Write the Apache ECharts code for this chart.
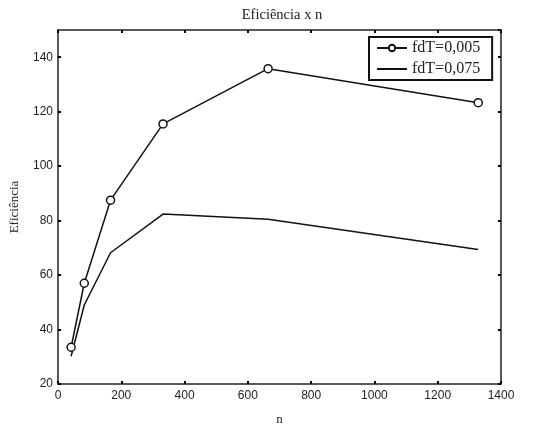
<!DOCTYPE html>
<html><head><meta charset="utf-8">
<script src="https://cdn.jsdelivr.net/npm/echarts@6/dist/echarts.min.js"></script>
<style>html,body{margin:0;padding:0;background:#fff}#c{width:540px;height:431px}</style>
</head><body><div id="c"></div>
<script>
const nValues = [41.5, 83, 166, 332, 664, 1328];
const eff005 = [33.5, 57, 87.5, 115.5, 135.8, 123.3];
const eff075 = [30.2, 49, 68.2, 82.4, 80.5, 69.4];
const seriesNames = ['fdT=0,005', 'fdT=0,075'];
const titleText = 'Eficiência x n';
const xName = 'n';
const yName = 'Eficiência';

const pairs = (xs, ys) => xs.map((x, i) => [x, ys[i]]);
const chart = echarts.init(document.getElementById('c'));
const lineCol = '#111';
const border = {show: true, onZero: false, lineStyle: {color: '#222', width: 1.5}};
const tick = {show: true, inside: true, length: 3, lineStyle: {color: '#000', width: 2}};
const plain = v => String(v);
chart.setOption({
  animation: false,
  backgroundColor: '#fff',
  title: {text: titleText, left: 277, textAlign: 'center', top: 3,
    textStyle: {fontFamily: 'Liberation Serif', fontSize: 14.5, fontWeight: 'normal', color: '#222'}},
  grid: {left: 56, right: 39, top: 30, bottom: 41},
  legend: {
    orient: 'vertical', left: 369, top: 37, itemWidth: 30, itemHeight: 8, itemGap: 5,
    padding: [3, 12, 3, 7], borderColor: '#111', borderWidth: 2, backgroundColor: '#fff',
    textStyle: {fontFamily: 'Liberation Serif', fontSize: 16, color: '#222'},
    data: [{name: seriesNames[0]}, {name: seriesNames[1], itemStyle: {opacity: 0}}]
  },
  xAxis: [{
    type: 'value', min: 0, max: 1400, interval: 200, position: 'bottom',
    name: xName, nameLocation: 'middle', nameGap: 29,
    nameTextStyle: {fontFamily: 'Liberation Serif', fontSize: 13, color: '#222'},
    axisLine: border, axisTick: tick, splitLine: {show: false},
    axisLabel: {fontFamily: 'Liberation Sans', fontSize: 12, color: '#222', margin: 6, formatter: plain}
  }, {
    type: 'value', min: 0, max: 1400, interval: 200, position: 'top',
    axisLine: border, axisTick: tick, splitLine: {show: false}, axisLabel: {show: false}
  }],
  yAxis: [{
    type: 'value', min: 20, max: 150, interval: 20, position: 'left',
    name: yName, nameLocation: 'middle', nameGap: 37,
    nameTextStyle: {fontFamily: 'Liberation Serif', fontSize: 13, color: '#222'},
    axisLine: border, axisTick: tick, splitLine: {show: false},
    axisLabel: {fontFamily: 'Liberation Sans', fontSize: 12, color: '#222', margin: 5, showMaxLabel: false, formatter: plain}
  }, {
    type: 'value', min: 20, max: 150, interval: 20, position: 'right',
    axisLine: border, axisTick: tick, splitLine: {show: false}, axisLabel: {show: false}
  }],
  series: [{
    name: seriesNames[0], type: 'line', data: pairs(nValues, eff005),
    symbol: 'circle', symbolSize: 8,
    itemStyle: {color: '#fff', borderColor: lineCol, borderWidth: 1.5},
    lineStyle: {color: lineCol, width: 1.5}
  }, {
    name: seriesNames[1], type: 'line', data: pairs(nValues, eff075),
    symbol: 'none', showSymbol: false,
    itemStyle: {color: lineCol},
    lineStyle: {color: lineCol, width: 1.5}
  }]
});
</script></body></html>
